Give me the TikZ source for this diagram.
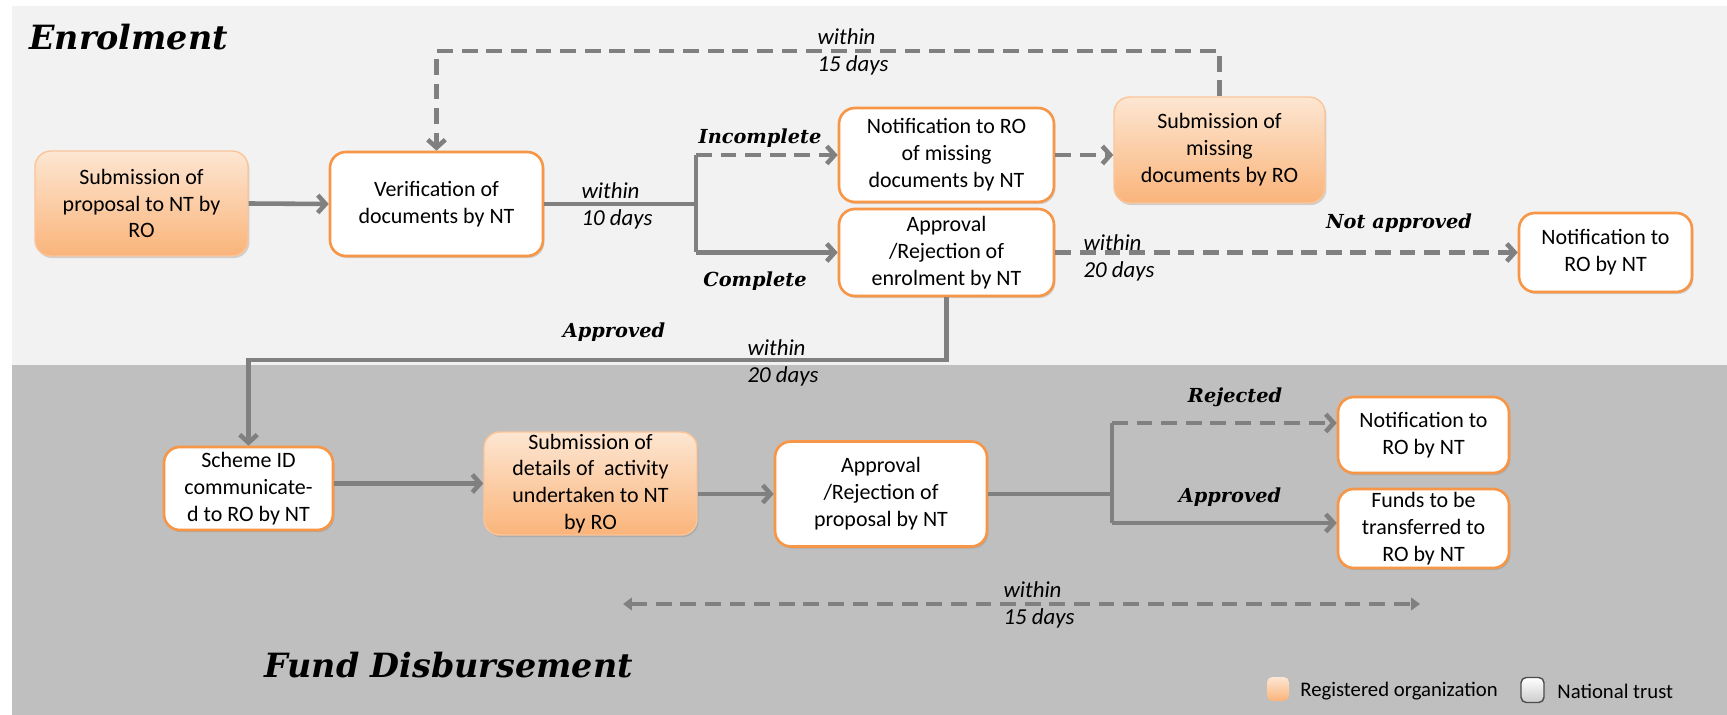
\documentclass[tikz,border=0pt]{standalone}
\usepackage{fontspec}
\setmainfont{Carlito}
\newfontfamily\headfont{DejaVu Serif}
\usetikzlibrary{positioning,shadows,arrows.meta}
\definecolor{bgTop}{HTML}{F2F2F2}
\definecolor{bgLow}{HTML}{BFBFBF}
\definecolor{rim}{HTML}{F79646}
\definecolor{peach}{HTML}{FDE6D2}
\definecolor{apricot}{HTML}{FAB47A}
\definecolor{wire}{HTML}{808080}

\begin{document}
\begin{tikzpicture}[x=0.02cm,y=-0.02cm, >={Straight Barb[length=4.5pt,width=10pt]},
  ntbox/.style={rectangle, rounded corners=9pt, draw=rim, line width=1.5pt, fill=white, align=center,
    inner xsep=2pt, inner ysep=1pt, font=\fontsize{12.5}{15.3}\selectfont,
    drop shadow={opacity=0.3,shadow xshift=0.8pt,shadow yshift=-1.2pt}},
  robox/.style={ntbox, draw=rim!55, line width=0.8pt, top color=peach, bottom color=apricot},
  pipe/.style={draw=wire, line width=2.6pt},
  flow/.style={pipe, ->},
  late/.style={flow, dash pattern=on 9pt off 5pt},
  cond/.style={font=\headfont\bfseries\itshape\fontsize{11}{13}\selectfont},
  days/.style={font=\itshape\fontsize{13}{15.3}\selectfont, align=left},
  head/.style={font=\headfont\bfseries\itshape\fontsize{19}{22}\selectfont}]
  \useasboundingbox (0,0) rectangle (1727,715);
  \fill[white] (0,0) rectangle (1727,715);
  \fill[bgTop] (12,6) rectangle (1727,365);
  \fill[bgLow] (12,365) rectangle (1727,715);

  % headings
  \node[head, anchor=base west, inner sep=0pt] (enrol) at (29,50) {Enrolment};
  \node[head, anchor=base west, inner sep=0pt] (fund) at (264,677) {Fund Disbursement};

  % enrolment boxes
  \node[robox, minimum width=4.26cm, minimum height=2.10cm] (subProp) at (141.5,203.5) {Submission of\\proposal to NT by\\RO};
  \node[ntbox, minimum width=4.26cm, minimum height=2.08cm] (verDoc) at (436.5,204) {Verification of\\documents by NT};
  \node[ntbox, minimum width=4.30cm, minimum height=1.88cm] (notMiss) at (946.5,155) {Notification to RO\\of missing\\documents by NT};
  \node[ntbox, minimum width=4.30cm, minimum height=1.74cm] (apprEnr) at (946.5,252.5) {Approval\\/Rejection of\\enrolment by NT};
  \node[robox, minimum width=4.22cm, minimum height=2.12cm] (subMiss) at (1219.5,150) {Submission of\\missing\\documents by RO};
  \node[ntbox, minimum width=3.46cm, minimum height=1.58cm] (notRO) at (1605.5,252.5) {Notification to\\RO by NT};

  % disbursement boxes
  \node[ntbox, minimum width=3.38cm, minimum height=1.66cm] (scheme) at (248.5,488.5) {Scheme ID\\communicate-\\d to RO by NT};
  \node[robox, minimum width=4.26cm, minimum height=2.06cm] (subAct) at (590.5,483.5) {Submission of\\details of \ activity\\undertaken to NT\\by RO};
  \node[ntbox, minimum width=4.24cm, minimum height=2.10cm] (apprProp) at (881,494) {Approval\\/Rejection of\\proposal by NT};
  \node[ntbox, minimum width=3.42cm, minimum height=1.52cm] (notRej) at (1423.5,435) {Notification to\\RO by NT};
  \node[ntbox, minimum width=3.42cm, minimum height=1.58cm] (funds) at (1423.5,528.5) {Funds to be\\transferred to\\RO by NT};

  % joints
  \coordinate (fork1) at (696,204);
  \coordinate (tl) at (436.5,51);
  \coordinate (gtop) at (248.5,360);
  \coordinate (fork2) at (1112,494);
  \coordinate (rjt) at (1112,423);
  \coordinate (apb) at (1112,523);
  \coordinate (dl) at (623,604);
  \coordinate (dr) at (1420,604);

  % enrolment connectors
  \draw[flow] (subProp.east) -- (verDoc.west);
  \draw[pipe] (verDoc.east) -- (fork1);
  \draw[pipe] (notMiss.west -| fork1) -- (apprEnr.west -| fork1);
  \draw[late] (notMiss.west -| fork1) -- (notMiss.west);
  \draw[flow] (apprEnr.west -| fork1) -- (apprEnr.west);
  \draw[late] (notMiss.east) -- (notMiss.east -| subMiss.west);
  \draw[late] (subMiss.north) |- (tl) -- (verDoc.north);
  \draw[late] (apprEnr.east) -- (notRO.west);
  \draw[flow] (apprEnr.south) |- (gtop) -- (scheme.north);

  % disbursement connectors
  \draw[flow] (scheme.east |- subAct.west) -- (subAct.west);
  \draw[flow] (subAct.east |- apprProp.west) -- (apprProp.west);
  \draw[pipe] (apprProp.east) -- (fork2);
  \draw[pipe] (rjt) -- (apb);
  \draw[late] (rjt) -- (rjt -| notRej.west);
  \draw[flow] (apb) -- (apb -| funds.west);
  \draw[late, {Triangle[length=5pt,width=7pt]}-{Triangle[length=5pt,width=7pt]}] (dl) -- (dr);

  % labels
  \node[days] (d10) at (617,206) {within\\10 days};
  \node[days] (d15a) at (853,52) {within\\15 days};
  \node[days] (d20a) at (1119,258) {within\\20 days};
  \node[days] (d20b) at (783,363) {within\\20 days};
  \node[days] (d15b) at (1039,605) {within\\15 days};
  \node[cond] (incomp) at (760,138) {Incomplete};
  \node[cond] (comp) at (755,281) {Complete};
  \node[cond] (notok) at (1399,223) {Not approved};
  \node[cond] (okA) at (614,332) {Approved};
  \node[cond] (rej) at (1235,397) {Rejected};
  \node[cond] (okB) at (1230,497) {Approved};

  % legend
  \node[rectangle, rounded corners=3pt, top color=peach, bottom color=apricot, minimum width=0.44cm, minimum height=0.48cm, inner sep=0pt] (legRO) at (1278,689) {};
  \node[anchor=west, inner sep=0pt, font=\fontsize{11.8}{14}\selectfont] (legROtxt) at (1300,691) {Registered organization};
  \node[rectangle, rounded corners=3pt, draw=black!70, line width=0.8pt, top color=white, bottom color=black!20, minimum width=0.46cm, minimum height=0.50cm, inner sep=0pt] (legNT) at (1532.5,690) {};
  \node[anchor=west, inner sep=0pt, font=\fontsize{11.8}{14}\selectfont] (legNTtxt) at (1557,691) {National trust};
\end{tikzpicture}
\end{document}
